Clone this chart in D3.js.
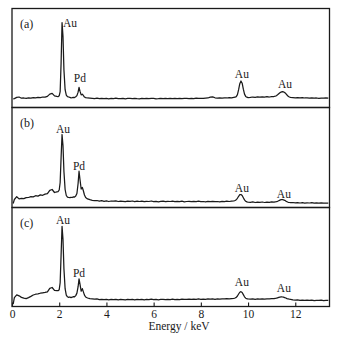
<!DOCTYPE html>
<html><head><meta charset="utf-8">
<script src="https://cdn.jsdelivr.net/npm/d3@7"></script>
<style>body{margin:0;background:#fff}svg{display:block}</style>
</head><body>
<svg id="chart" width="345" height="343"></svg>
<script>
// Energy grid (keV)
const energy = [
  0.05,0.1,0.2,0.3,0.4,0.5,0.6,0.7,0.8,0.9,1.0,1.1,1.2,1.3,1.4,1.5,1.6,1.7,1.8,1.9,
  1.95,2.0,2.04,2.08,2.12,2.16,2.2,2.25,2.3,2.35,2.4,2.45,2.5,2.55,2.6,2.65,2.7,2.75,2.8,2.84,2.88,2.93,2.98,3.02,3.07,3.12,3.2,3.3,
  3.4,3.5,3.6,3.7,3.8,3.9,4.0,4.1,4.2,4.3,
  4.4,4.5,4.6,4.7,4.8,4.9,5.0,5.1,5.2,5.3,
  5.4,5.5,5.6,5.7,5.8,5.9,6.0,6.1,6.2,6.3,
  6.4,6.5,6.6,6.7,6.8,6.9,7.0,7.1,7.2,7.3,
  7.4,7.5,7.6,7.7,7.8,7.9,8.0,8.1,8.2,8.3,
  8.4,8.5,8.6,8.7,8.8,8.9,9.0,9.1,9.2,9.3,
  9.4,
  9.45,9.5,9.55,9.6,9.65,9.7,9.75,9.8,9.85,9.9,9.95,10.0,
  10.1,10.2,10.3,10.4,10.5,10.6,10.7,10.8,10.9,11.0,11.1,
  11.15,11.2,11.25,11.3,11.35,11.4,11.45,11.5,11.55,11.6,11.65,11.7,11.75,11.8,
  11.9,12.0,12.1,12.2,12.3,12.4,12.5,12.6,12.7,12.8,12.9,13.0,13.1,13.2,13.3,13.4
];
// Intensities (a.u., % of panel height)
const countsA = [
  8.6,9.0,10.2,10.6,9.4,9.6,9.2,9.8,9.5,10.0,9.7,10.3,10.0,10.6,10.4,11.2,13.5,14.3,11.8,11.2,
  11.0,11.8,16,45,85.7,72,38,18,12.5,11.0,10.6,10.2,9.8,10.0,10.3,10.0,10.8,12.0,15.5,20.4,16.5,12.8,13.4,12.2,10.6,10.0,9.6,9.4,
  9.2,9.0,9.4,8.9,9.2,9.0,9.3,8.8,9.1,9.0,
  9.4,8.9,9.0,9.3,8.8,9.1,9.2,8.9,9.3,9.0,
  8.8,9.2,9.0,9.3,8.9,9.1,9.2,8.8,9.0,9.3,
  8.9,9.1,9.0,9.2,8.9,9.3,9.0,9.2,8.9,9.1,
  9.3,9.0,9.2,9.0,9.4,9.1,9.3,9.2,9.5,9.6,
  10.4,10.8,9.8,9.4,9.6,9.5,9.8,9.6,10.0,9.8,
  10.2,
  10.4,11.0,13.0,18.0,24.0,26.8,24.5,18.5,13.5,11.2,10.4,10.0,
  10.2,10.6,10.3,10.7,10.4,10.8,10.5,10.9,10.6,11.0,11.1,
  11.4,11.9,12.8,13.8,14.8,15.6,16.0,15.8,15.2,14.0,12.6,11.4,10.6,10.2,
  10.0,9.8,10.0,9.7,9.9,9.6,9.8,9.5,9.7,9.4,9.6,9.3,9.5,9.4,9.6,9.4
];
const countsB = [
  4.0,8.0,10.8,8.6,9.2,8.8,9.8,10.0,10.8,10.6,11.8,11.4,12.6,12.2,13.4,13.8,17.2,18.0,15.0,15.6,
  15.8,17.5,25,50,73,62,36,18,12,10.4,10.0,9.8,10.2,10.0,10.6,10.4,11.4,14.0,24.0,36.3,28.0,18.5,20.0,17.0,12.5,10.0,8.6,7.8,
  7.2,6.8,7.0,6.4,6.8,6.2,6.6,6.0,6.5,6.3,
  6.6,6.0,6.4,6.2,5.8,6.4,6.1,6.5,5.9,6.3,
  6.0,6.4,5.8,6.2,6.0,6.5,5.9,6.2,5.7,6.1,
  6.3,5.8,6.1,6.0,6.4,5.8,6.2,5.9,6.3,5.7,
  6.0,6.2,5.8,6.1,5.9,6.3,5.8,6.0,5.7,6.1,
  5.9,6.2,5.8,6.0,5.7,6.1,5.9,6.3,6.0,6.4,
  6.6,
  7.0,7.8,9.2,11.2,12.8,13.0,12.0,9.8,7.6,6.2,5.6,5.4,
  5.2,5.6,5.0,5.4,5.1,5.5,5.0,5.3,5.2,5.6,5.4,
  5.6,5.8,6.2,6.8,7.4,7.8,8.0,7.6,7.2,6.4,5.8,5.2,5.0,4.9,
  5.0,4.6,4.9,4.5,4.8,4.4,4.7,4.5,4.8,4.3,4.6,4.4,4.7,4.3,4.5,4.4
];
const countsC = [
  2.5,9.0,11.8,10.8,9.2,8.4,8.0,9.0,10.2,11.6,12.4,12.8,13.4,13.8,14.2,14.8,18.4,19.2,16.2,16.0,
  16.0,17.0,24,52,81,68,38,18,11.5,9.8,9.2,9.6,9.0,9.4,10.0,9.8,11.0,13.5,20.0,28.0,22.5,15.5,18.0,15.0,11.5,9.6,8.6,8.0,
  7.8,7.4,7.6,7.0,7.3,6.9,7.2,6.8,7.1,7.0,
  7.3,6.8,7.1,7.0,6.7,7.2,6.9,7.3,6.8,7.1,
  7.0,7.3,6.8,7.1,6.9,7.4,6.9,7.2,6.8,7.1,
  7.3,6.9,7.2,7.0,7.4,6.9,7.2,7.0,7.4,7.1,
  7.3,7.5,7.1,7.4,7.2,7.6,7.3,7.5,7.2,7.6,
  7.4,7.7,7.3,7.6,7.4,7.8,7.6,7.9,7.7,8.0,
  8.2,
  8.6,9.2,10.6,12.6,14.4,15.0,14.2,12.0,9.8,8.4,7.8,7.6,
  7.4,7.7,7.3,7.6,7.4,7.7,7.5,7.8,7.6,7.9,8.0,
  8.2,8.4,8.8,9.2,9.5,9.6,9.6,9.4,9.0,8.6,8.0,7.6,7.4,7.3,
  6.8,6.4,6.6,6.2,6.5,6.1,6.4,6.2,6.5,6.0,6.3,6.1,6.4,6.0,6.2,6.1
];
const panelTags = ["(a)", "(b)", "(c)"];
// peak labels: [text, energy, intensity]
const labelsA = [["Au",2.16,81],["Pd",2.62,25.8],["Au",9.44,29.8],["Au",11.27,20.2]];
const labelsB = [["Au",1.86,75],["Pd",2.58,38],["Au",9.44,15.5],["Au",11.22,10]];
const labelsC = [["Au",1.86,83.3],["Pd",2.58,29.8],["Au",9.44,20.7],["Au",11.22,14.6]];
const xTicks = [0,2,4,6,8,10,12];
const xTitle = "Energy / keV";

[countsA,countsB,countsC].forEach((c,i)=>{ if(c.length!==energy.length) throw new Error("length mismatch "+i+": "+c.length+" vs "+energy.length); });

const svg = d3.select("#chart");
const x = d3.scaleLinear().domain([0,13.45]).range([12,329.5]);
const panels = [
  {counts:countsA, labels:labelsA, top:8.5, bottom:107.5},
  {counts:countsB, labels:labelsB, top:107.5, bottom:207.5},
  {counts:countsC, labels:labelsC, top:207.5, bottom:306.5}
];
const font = "'Liberation Serif','Times New Roman',serif";

panels.forEach((p,i)=>{
  const y = d3.scaleLinear().domain([0,100]).range([p.bottom,p.top]);
  const line = d3.line().x((d,j)=>x(energy[j])).y(d=>y(d));
  svg.append("path").datum(p.counts).attr("d",line)
    .attr("fill","none").attr("stroke","#1a1a1a").attr("stroke-width",1.25).attr("stroke-linejoin","round");
  svg.append("rect").attr("x",x(0)).attr("y",p.top).attr("width",x(13.45)-x(0)).attr("height",p.bottom-p.top)
    .attr("fill","none").attr("stroke","#1a1a1a").attr("stroke-width",1.3);
  svg.append("text").attr("x",x(0.34)).attr("y",y(80.5)).text(panelTags[i])
    .attr("font-family",font).attr("font-size",12).attr("fill","#1a1a1a");
  svg.selectAll(null).data(p.labels).enter().append("text")
    .attr("x",d=>x(d[1])).attr("y",d=>y(d[2])).text(d=>d[0])
    .attr("font-family",font).attr("font-size",11.5).attr("fill","#1a1a1a");
});

const axis = d3.axisBottom(x).tickValues(xTicks).tickSizeInner(-4).tickSizeOuter(0).tickPadding(3).tickFormat(d3.format("d"));
const g = svg.append("g").attr("transform","translate(0,306.5)").call(axis);
g.select(".domain").remove();
g.selectAll("line").attr("stroke","#1a1a1a").attr("stroke-width",1.1);
g.selectAll("text").attr("font-family",font).attr("font-size",11.5).attr("fill","#1a1a1a");
svg.append("text").attr("x",179).attr("y",330).attr("text-anchor","middle").text(xTitle)
  .attr("font-family",font).attr("font-size",11.5).attr("fill","#1a1a1a");
</script>
</body></html>
